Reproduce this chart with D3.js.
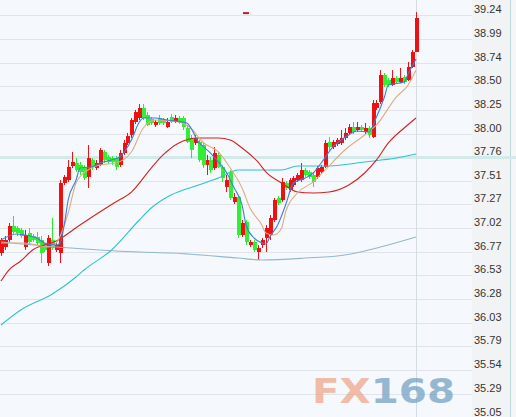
<!DOCTYPE html>
<html>
<head>
<meta charset="utf-8">
<script src="https://cdn.jsdelivr.net/npm/d3@7"></script>
<style>
  html, body { margin: 0; padding: 0; background: #fff; }
  svg { display: block; }
</style>
</head>
<body>
<svg id="chart" width="516" height="417"></svg>
<script>
// price axis labels (right side)
var tickLabels = ["39.24", "38.99", "38.74", "38.50", "38.25", "38.00", "37.76", "37.51", "37.27",
    "37.02", "36.77", "36.53", "36.28", "36.03", "35.79", "35.54", "35.29", "35.05"];

// candles, oldest first: open, high, low, close
var opens = [36.762, 36.825, 36.898, 37.044, 37.023, 37.002, 36.825, 36.971, 36.939, 36.929,
    36.898, 36.846, 36.658, 36.898, 36.794, 36.762, 37.491, 37.522, 37.668, 37.699,
    37.679, 37.658, 37.554, 37.731, 37.647, 37.679, 37.814, 37.762, 37.751, 37.751,
    37.679, 37.803, 37.908, 37.991, 38.126, 38.168, 38.272, 38.199, 38.157, 38.095,
    38.168, 38.147, 38.074, 38.178, 38.137, 38.168, 38.168, 38.064, 37.960, 37.908,
    37.918, 37.887, 37.679, 37.731, 37.647, 37.783, 37.658, 37.450, 37.606, 37.293,
    37.345, 36.950, 37.085, 36.846, 36.877, 36.773, 36.846, 36.919, 36.950, 37.106,
    37.335, 37.314, 37.491, 37.418, 37.470, 37.522, 37.522, 37.626, 37.606, 37.574,
    37.554, 37.606, 37.658, 37.918, 37.866, 37.897, 37.908, 37.960, 38.012, 38.074,
    38.043, 38.074, 38.022, 38.064, 37.970, 38.272, 38.334, 38.615, 38.563, 38.511,
    38.584, 38.543, 38.595, 38.563, 38.699, 38.855];
var highs = [36.919, 36.939, 37.075, 37.147, 37.044, 37.023, 37.002, 37.023, 36.960, 36.981,
    36.939, 36.867, 36.950, 37.127, 36.877, 37.522, 37.574, 37.731, 37.814, 37.751,
    37.710, 37.679, 37.887, 37.751, 37.731, 37.855, 37.835, 37.783, 37.772, 37.772,
    37.835, 37.939, 38.012, 38.168, 38.251, 38.313, 38.313, 38.230, 38.178, 38.147,
    38.199, 38.168, 38.168, 38.209, 38.199, 38.189, 38.189, 38.095, 37.991, 37.991,
    37.939, 37.908, 37.783, 37.762, 37.866, 37.814, 37.679, 37.574, 37.626, 37.387,
    37.366, 37.106, 37.106, 36.898, 36.898, 36.846, 36.919, 37.054, 37.158, 37.335,
    37.356, 37.543, 37.512, 37.543, 37.564, 37.595, 37.699, 37.647, 37.626, 37.606,
    37.668, 37.679, 37.939, 37.970, 37.939, 37.960, 38.043, 38.064, 38.105, 38.126,
    38.126, 38.095, 38.116, 38.084, 38.355, 38.355, 38.667, 38.636, 38.584, 38.667,
    38.605, 38.688, 38.615, 38.751, 38.876, 39.270];
var lows = [36.731, 36.794, 36.877, 36.960, 36.939, 36.919, 36.794, 36.846, 36.877, 36.835,
    36.658, 36.773, 36.627, 36.794, 36.773, 36.658, 37.470, 37.502, 37.647, 37.606,
    37.574, 37.522, 37.439, 37.626, 37.626, 37.668, 37.699, 37.689, 37.679, 37.626,
    37.658, 37.783, 37.887, 37.960, 38.105, 38.147, 38.147, 38.084, 38.095, 38.074,
    38.095, 38.095, 38.064, 38.116, 38.116, 38.105, 38.043, 37.908, 37.751, 37.887,
    37.710, 37.647, 37.574, 37.595, 37.626, 37.647, 37.502, 37.397, 37.314, 37.272,
    36.919, 36.929, 36.846, 36.825, 36.773, 36.690, 36.814, 36.773, 36.898, 37.085,
    37.262, 37.293, 37.418, 37.397, 37.450, 37.502, 37.502, 37.554, 37.533, 37.450,
    37.533, 37.585, 37.647, 37.835, 37.845, 37.876, 37.887, 37.939, 37.991, 38.001,
    38.022, 38.022, 38.001, 37.960, 37.960, 38.251, 38.313, 38.490, 38.490, 38.501,
    38.522, 38.532, 38.522, 38.553, 38.688, 38.855];
var closes = [36.898, 36.898, 37.044, 36.981, 36.971, 36.939, 36.950, 36.877, 36.898, 36.867,
    36.762, 36.794, 36.919, 36.814, 36.846, 37.491, 37.554, 37.658, 37.710, 37.626,
    37.606, 37.543, 37.751, 37.658, 37.699, 37.835, 37.731, 37.710, 37.710, 37.658,
    37.803, 37.908, 37.980, 38.147, 38.230, 38.272, 38.168, 38.095, 38.116, 38.126,
    38.116, 38.116, 38.126, 38.126, 38.168, 38.126, 38.074, 37.918, 37.835, 37.960,
    37.731, 37.679, 37.731, 37.626, 37.803, 37.658, 37.543, 37.522, 37.335, 37.345,
    36.950, 37.075, 36.877, 36.877, 36.794, 36.814, 36.898, 37.023, 37.127, 37.314,
    37.283, 37.502, 37.439, 37.522, 37.543, 37.574, 37.626, 37.574, 37.554, 37.502,
    37.647, 37.658, 37.908, 37.866, 37.918, 37.939, 37.960, 38.012, 38.074, 38.022,
    38.074, 38.043, 38.064, 37.991, 38.324, 38.324, 38.615, 38.511, 38.511, 38.584,
    38.543, 38.584, 38.543, 38.699, 38.855, 39.209];

// moving averages: [candle index, value]
var ma5 = [[0, 36.898], [4, 36.960], [6, 36.950], [9, 36.919], [11, 36.867], [14, 36.846], [15, 36.867],
    [16, 37.054], [17, 37.314], [19, 37.522], [20, 37.647], [23, 37.658], [25, 37.699], [28, 37.731],
    [30, 37.762], [33, 37.939], [35, 38.126], [36, 38.168], [39, 38.168], [42, 38.147], [44, 38.137],
    [47, 38.116], [50, 37.918], [53, 37.803], [55, 37.710], [57, 37.606], [59, 37.439], [61, 37.262],
    [62, 37.054], [64, 36.919], [66, 36.867], [67, 36.856], [68, 36.929], [70, 37.054], [72, 37.262],
    [74, 37.491], [77, 37.543], [79, 37.595], [81, 37.699], [84, 37.866], [88, 37.991], [90, 38.032],
    [93, 38.022], [95, 38.178], [97, 38.386], [98, 38.511], [102, 38.543], [103, 38.626], [105, 38.782]];
var ma10 = [[0, 36.867], [6, 36.867], [12, 36.825], [14, 36.867], [17, 37.179], [19, 37.491], [22, 37.626],
    [25, 37.679], [29, 37.699], [33, 37.814], [36, 38.064], [39, 38.147], [45, 38.126], [48, 38.064],
    [51, 37.918], [55, 37.814], [58, 37.647], [61, 37.439], [63, 37.231], [66, 37.054], [67, 36.971],
    [69, 36.950], [71, 37.023], [72, 37.189], [75, 37.387], [79, 37.502], [82, 37.626], [87, 37.835],
    [92, 37.991], [95, 38.095], [100, 38.386], [103, 38.511], [105, 38.667]];
var ma20 = [[0, 36.471], [2, 36.585], [5, 36.679], [8, 36.794], [14, 36.887], [20, 37.054], [25, 37.189],
    [29, 37.293], [33, 37.397], [38, 37.647], [41, 37.783], [45, 37.908], [50, 37.960], [55, 37.960],
    [58, 37.939], [61, 37.855], [65, 37.710], [67, 37.606], [71, 37.491], [75, 37.397], [79, 37.387],
    [83, 37.397], [88, 37.470], [92, 37.595], [95, 37.731], [98, 37.908], [102, 38.064], [105, 38.168]];
var ma60 = [[0, 36.013], [5, 36.169], [13, 36.336], [19, 36.513], [21, 36.585], [28, 36.794], [35, 37.106],
    [38, 37.231], [43, 37.366], [50, 37.470], [55, 37.543], [60, 37.626], [66, 37.626], [71, 37.626],
    [75, 37.668], [83, 37.668], [92, 37.710], [100, 37.751], [105, 37.793]];
var ma120 = [[0, 36.877], [14, 36.825], [25, 36.794], [35, 36.773], [43, 36.762], [60, 36.710],
    [66, 36.690], [77, 36.710], [87, 36.742], [96, 36.825], [105, 36.929]];

var markPrice = "37.76";  // highlighted price level

var svg = d3.select("#chart");
var W = 516, H = 417;
var plotRight = 472, axisRight = 510;

var n = opens.length;
var x = d3.scaleBand()
    .domain(d3.range(n))
    .range([-1, 418])
    .paddingInner(0.1)
    .paddingOuter(0.05);
var y = d3.scaleLinear()
    .domain([35.05, 39.24])
    .range([417.5, 15]);

// backgrounds
svg.append("rect").attr("x", 0).attr("y", 0).attr("width", plotRight).attr("height", H).attr("fill", "#f5f9fd");
svg.append("rect").attr("x", plotRight).attr("y", 0).attr("width", axisRight - plotRight).attr("height", H).attr("fill", "#f2f3f4");
svg.append("rect").attr("x", axisRight).attr("y", 0).attr("width", W - axisRight).attr("height", H).attr("fill", "#f4f6f7");
svg.append("line")
    .attr("x1", axisRight + 0.5).attr("x2", axisRight + 0.5)
    .attr("y1", 0).attr("y2", H)
    .attr("stroke", "#bcd9da");

// grid
svg.append("g").selectAll("line")
    .data(tickLabels)
    .join("line")
    .attr("x1", 0).attr("x2", plotRight)
    .attr("y1", function (d) { return Math.round(y(+d)) + 0.5; })
    .attr("y2", function (d) { return Math.round(y(+d)) + 0.5; })
    .attr("stroke", "#e1e5e9");

svg.append("line")
    .attr("x1", 0).attr("x2", W)
    .attr("y1", Math.round(y(+markPrice)) + 0.5)
    .attr("y2", Math.round(y(+markPrice)) + 0.5)
    .attr("stroke", "#d2eaea")
    .attr("stroke-width", 3);

// last bar vertical line
var lastX = Math.round(x(n - 1) + x.bandwidth() / 2) + 0.5;
svg.append("line")
    .attr("x1", lastX).attr("x2", lastX)
    .attr("y1", 0).attr("y2", H)
    .attr("stroke", "#d5dde4");

// axis labels
svg.append("g").selectAll("text")
    .data(tickLabels)
    .join("text")
    .attr("x", 474)
    .attr("y", function (d) { return y(+d) - 2; })
    .attr("font-family", "'Liberation Sans', Arial, sans-serif")
    .attr("font-size", 11)
    .attr("fill", "#333")
    .text(function (d) { return d; });

// watermark
var wm = svg.append("text")
    .attr("x", 312)
    .attr("y", 403)
    .attr("font-family", "'DejaVu Sans', sans-serif")
    .attr("font-weight", "bold")
    .attr("font-size", 34)
    .attr("textLength", 143)
    .attr("lengthAdjust", "spacingAndGlyphs")
    .attr("opacity", 0.7);
wm.append("tspan").attr("fill", "#eea184").text("FX");
wm.append("tspan").attr("fill", "#6f9cc0").text("168");

// moving averages
var line = d3.line()
    .x(function (d) { return x(d[0]) + x.bandwidth() / 2; })
    .y(function (d) { return y(d[1]); })
    .curve(d3.curveMonotoneX);

var maSeries = [
    { data: ma120, color: "#93b6cc" },
    { data: ma60, color: "#2fc3cf" },
    { data: ma20, color: "#d6201f" },
    { data: ma10, color: "#e6a97e" },
    { data: ma5, color: "#3a80dc" }
];

// candles
var candles = d3.range(n).map(function (i) {
    return { i: i, o: opens[i], h: highs[i], l: lows[i], c: closes[i] };
});
var cg = svg.append("g");
var bw = Math.round(x.bandwidth());
cg.selectAll("line")
    .data(candles)
    .join("line")
    .attr("x1", function (d) { return Math.round(x(d.i) + x.bandwidth() / 2) + 0.5; })
    .attr("x2", function (d) { return Math.round(x(d.i) + x.bandwidth() / 2) + 0.5; })
    .attr("y1", function (d) { return y(d.h); })
    .attr("y2", function (d) { return y(d.l); })
    .attr("stroke", function (d) { return d.c >= d.o ? "#e8141a" : "#33e633"; });
cg.selectAll("rect")
    .data(candles)
    .join("rect")
    .attr("x", function (d) { return Math.round(x(d.i) + x.bandwidth() / 2) - Math.floor(bw / 2) + 1; })
    .attr("width", bw)
    .attr("y", function (d) { return y(Math.max(d.o, d.c)); })
    .attr("height", function (d) { return Math.max(1, Math.abs(y(d.o) - y(d.c))); })
    .attr("fill", function (d) { return d.c >= d.o ? "#ee1111" : "#33ee33"; });

svg.append("g").selectAll("path")
    .data(maSeries)
    .join("path")
    .attr("d", function (d) { return line(d.data); })
    .attr("fill", "none")
    .attr("stroke", function (d) { return d.color; })
    .attr("stroke-width", 1.1);

// small marker near the top
svg.append("rect")
    .attr("x", 243).attr("y", y(39.27))
    .attr("width", 6).attr("height", 2)
    .attr("fill", "#b42226");
</script>
</body>
</html>
